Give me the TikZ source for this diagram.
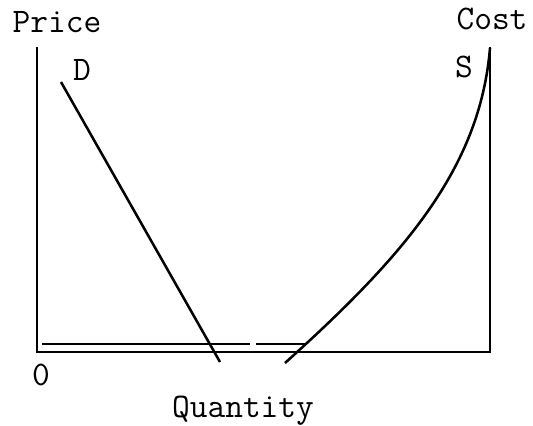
\documentclass[tikz,border=0pt]{standalone}
\begin{document}
\begin{tikzpicture}[x=0.25mm, y=-0.25mm,
      font=\fontsize{24.5}{29}\selectfont\ttfamily,
      axis/.style={line width=2.1pt, line join=miter},
      curve/.style={line width=1.8pt}]
      \useasboundingbox (0,0) rectangle (533,426);
      \def\xl{37}
      \def\xr{490}
      \def\yt{47}
      \def\yb{352}
      % Axes
      \coordinate (ptop) at (\xl,\yt);
      \coordinate (orig) at (\xl,\yb);
      \coordinate (qend) at (\xr,\yb);
      \coordinate (ctop) at (\xr,\yt);
      \draw[axis] (ptop) -- (orig) -- (qend) -- (ctop);
      % Demande
      \coordinate (dtop) at (61,82);
      \coordinate (dbot) at (220,362);
      \draw[curve] (dtop) -- (dbot);
      % Offre
      \coordinate (sbot) at (285,363);
      \coordinate (stop) at (\xr,48);
      \draw[curve] (sbot) .. controls (405,255) and (480,168) .. (stop);
      % Niveau
      \coordinate (la) at (42,344);
      \coordinate (lb) at (250,344);
      \coordinate (lc) at (256,344);
      \coordinate (ld) at (305,344);
      \draw[line width=1.5pt] (la) -- (lb) (lc) -- (ld);
      % Textes
      \node (price) at (57,22) {Price};
      \node (cost) at (492,19) {Cost};
      \node (dlab) at (82,70) {D};
      \node (slab) at (464,67) {S};
      \node (zero) at (41,375) {0};
      \node (qty) at (243,411) {Quantity};
\end{tikzpicture}
\end{document}
